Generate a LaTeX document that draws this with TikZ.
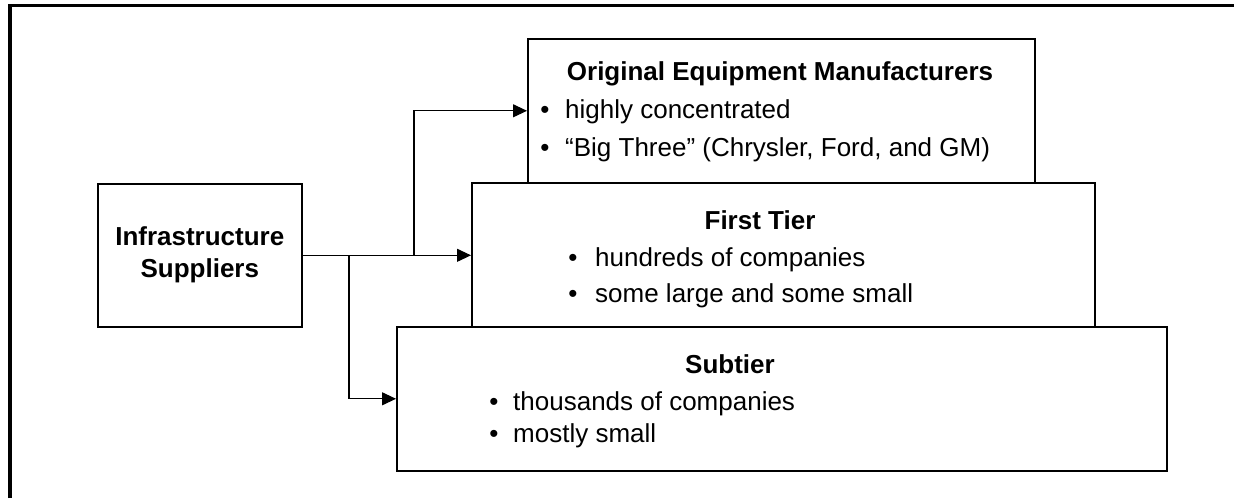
\documentclass[tikz,border=0pt]{standalone}
\usepackage{fontspec}
\setmainfont{Liberation Sans}
\usetikzlibrary{arrows.meta}
\tikzset{
  box/.style={draw=black, fill=white, line width=1.6pt, inner sep=0pt, anchor=north west},
  txt/.style={inner sep=0pt, font=\fontsize{26}{32}\selectfont},
  ttl/.style={txt, font=\fontsize{26}{32}\selectfont\bfseries, anchor=base},
  item/.style={txt, anchor=base west},
  bul/.style={txt, anchor=base},
  conn/.style={draw=black, line width=1.1pt, -{Triangle[length=14pt,width=13pt]}},
  frame/.style={line width=3.5pt}
}
\begin{document}
\begin{tikzpicture}[x=1pt,y=1pt]
\useasboundingbox (0,0) rectangle (1234,-498);
\draw[frame] (10,-498) -- (10,-5.5) -- (1234,-5.5);

% boxes
\node[box, minimum width=507, minimum height=144] (oem) at (527,-38) {};
\node[box, minimum width=623, minimum height=144] (ft) at (471,-182) {};
\node[box, minimum width=770, minimum height=144] (sub) at (396,-326) {};
\node[box, minimum width=204, minimum height=143] (infra) at (97,-183) {};

% infrastructure text
\node[txt, font=\fontsize{26}{32}\selectfont\bfseries, align=center] (infrat) at ([yshift=1pt]infra.center) {Infrastructure\\Suppliers};

% OEM text
\node[ttl] (oemt) at (780,-80) {Original Equipment Manufacturers};
\node[bul] (oemb1) at (545,-118) {\textbullet};
\node[item] (oem1) at (565,-118) {highly concentrated};
\node[bul] (oemb2) at (545,-156) {\textbullet};
\node[item] (oem2) at (565,-156) {“Big Three” (Chrysler, Ford, and GM)};

% First tier text
\node[ttl] (ftt) at (760,-229) {First Tier};
\node[bul] (ftb1) at (573,-266) {\textbullet};
\node[item] (ft1) at (595,-266) {hundreds of companies};
\node[bul] (ftb2) at (573,-302) {\textbullet};
\node[item] (ft2) at (595,-302) {some large and some small};

% Subtier text
\node[ttl] (subt) at (730,-373) {Subtier};
\node[bul] (subb1) at (494,-410) {\textbullet};
\node[item] (sub1) at (513,-410) {thousands of companies};
\node[bul] (subb2) at (494,-442) {\textbullet};
\node[item] (sub2) at (513,-442) {mostly small};

% connectors
\coordinate (x1) at (414,0);
\coordinate (x2) at (349,0);
\coordinate (j1) at (x1 |- infra.east);
\coordinate (j2) at (x2 |- infra.east);
\draw[conn] (infra.east) -- (infra.east -| ft.west);
\draw[conn] (j1) |- (oem.west);
\draw[conn] (j2) |- (sub.west);
\end{tikzpicture}
\end{document}
